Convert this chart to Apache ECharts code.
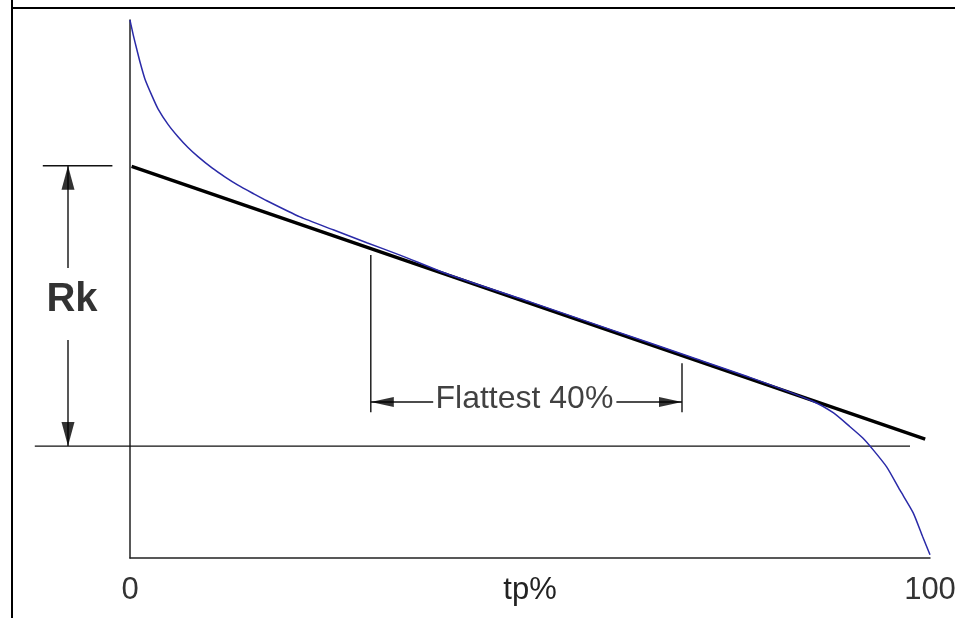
<!DOCTYPE html>
<html>
<head>
<meta charset="utf-8">
<script src="https://cdn.jsdelivr.net/npm/echarts@6/dist/echarts.min.js"></script>
<style>
html,body{margin:0;padding:0;background:#fff;}
#c{width:955px;height:618px;}
</style>
</head>
<body>
<div id="c"></div>
<script>
// Bearing-ratio (Abbott-Firestone) curve, x = tp%, y = height (relative units)
const xTickLabels = ['0', '100'];
const xAxisName = 'tp%';
const curveX = [0, 0.125, 0.41, 0.84, 1.25, 1.875, 2.75, 3.5, 4.75, 6.0, 7.25, 8.5, 10.25, 11.9, 13.5, 15.4, 17.1, 21.25, 25.4, 29.6, 33.75, 40, 50, 60, 70, 78, 85.4, 87.9, 90, 91.6, 92.9, 94.6, 96.25, 97.9, 99.1, 100];
const curveY = [100, 99.1, 97.2, 94.6, 92.2, 89.0, 85.9, 83.5, 80.6, 78.3, 76.3, 74.6, 72.5, 70.8, 69.3, 67.75, 66.4, 63.4, 61.0, 58.6, 56.3, 52.6, 47.6, 42.5, 37.4, 33.3, 29.1, 27.0, 24.4, 22.3, 20.1, 16.9, 12.6, 8.4, 3.9, 0.6];
const fitLineX = [0.2, 99.4];
const fitLineY = [72.8, 22.1];
const rkTop = 72.9, rkBottom = 20.8;
const rkLabel = 'Rk';
const flatLabel = 'Flattest 40%';
const flatStart = 30.1, flatEnd = 69.0;

const C = echarts.init(document.getElementById('c'));
const font = '"Liberation Sans", Arial, sans-serif';
// annotation segments [x1, y1, x2, y2] drawn through the axes' scales
const segments = [
  [-11.9, rkBottom, 97.5, rkBottom],
  [-10.9, rkTop, -2.2, rkTop],
  [-7.75, rkTop, -7.75, 53.9],
  [-7.75, 40.5, -7.75, rkBottom],
  [flatStart, 56.3, flatStart, 27.1],
  [flatEnd, 36.2, flatEnd, 27.1],
  [flatStart, 29.0, 37.9, 29.0],
  [60.8, 29.0, flatEnd, 29.0]
];
const arrow = (x, y, rot, off, size) => ({
  type: 'scatter', data: [[x, y]], clip: false, symbol: 'triangle',
  symbolSize: size, symbolRotate: rot, symbolOffset: off,
  itemStyle: { color: '#000' }, animation: false, silent: true, z: 4
});
const text = (x, y, t, f) => ({
  type: 'scatter', data: [[x, y]], clip: false, symbolSize: 0, silent: true, animation: false,
  label: { show: true, position: 'inside', formatter: t, color: '#000', fontFamily: font, ...f }
});

C.setOption({
  backgroundColor: '#fff',
  animation: false,
  grid: { left: 130, right: 25, top: 20, bottom: 60, containLabel: false, outerBoundsMode: 'none' },
  xAxis: {
    type: 'value', min: 0, max: 100, interval: 100,
    axisLine: { lineStyle: { color: '#222', width: 1.5 } },
    axisTick: { show: false }, splitLine: { show: false },
    axisLabel: { margin: 17, fontSize: 31, color: '#333', fontFamily: font,
      formatter: (v) => v === 0 ? xTickLabels[0] : (v === 100 ? xTickLabels[1] : '') },
    name: xAxisName, nameLocation: 'middle', nameGap: 17, nameMoveOverlap: false,
    nameTextStyle: { fontSize: 31, color: '#222', fontFamily: font, verticalAlign: 'top' }
  },
  yAxis: {
    type: 'value', min: 0, max: 100,
    axisLine: { show: true, lineStyle: { color: '#222', width: 1.5 } },
    axisTick: { show: false }, splitLine: { show: false }, axisLabel: { show: false }
  },
  graphic: [
    { type: 'line', shape: { x1: 12, y1: 0, x2: 12, y2: 618 }, style: { stroke: '#000', lineWidth: 2 } },
    { type: 'line', shape: { x1: 12, y1: 8, x2: 955, y2: 8 }, style: { stroke: '#000', lineWidth: 2 } }
  ],
  series: [
    {
      type: 'custom', data: segments, clip: false, silent: true, animation: false, z: 3,
      renderItem: (params, api) => {
        const a = api.coord([api.value(0), api.value(1)]);
        const b = api.coord([api.value(2), api.value(3)]);
        return { type: 'line', shape: { x1: a[0], y1: a[1], x2: b[0], y2: b[1] },
          style: { stroke: '#111', lineWidth: 1.4 } };
      }
    },
    arrow(-7.75, rkTop, 0, [0, 12], [13, 24]),
    arrow(-7.75, rkBottom, 180, [0, -12], [13, 24]),
    text(-7.25, 48.0, rkLabel, { fontSize: 40, fontWeight: 'bold' }),
    arrow(flatStart, 29.0, 90, [11.5, 0], [10, 23]),
    arrow(flatEnd, 29.0, -90, [-11.5, 0], [10, 23]),
    text(49.3, 29.6, flatLabel, { fontSize: 32, color: '#111' }),
    {
      type: 'line', data: fitLineX.map((x, i) => [x, fitLineY[i]]), symbol: 'none',
      lineStyle: { color: '#000', width: 3.4 }, z: 5, clip: false
    },
    {
      type: 'line', data: curveX.map((x, i) => [x, curveY[i]]), symbol: 'none',
      smooth: 0.2,
      lineStyle: { color: '#2a2aa8', width: 1.5 }, z: 6, clip: false
    }
  ]
});
</script>
</body>
</html>
